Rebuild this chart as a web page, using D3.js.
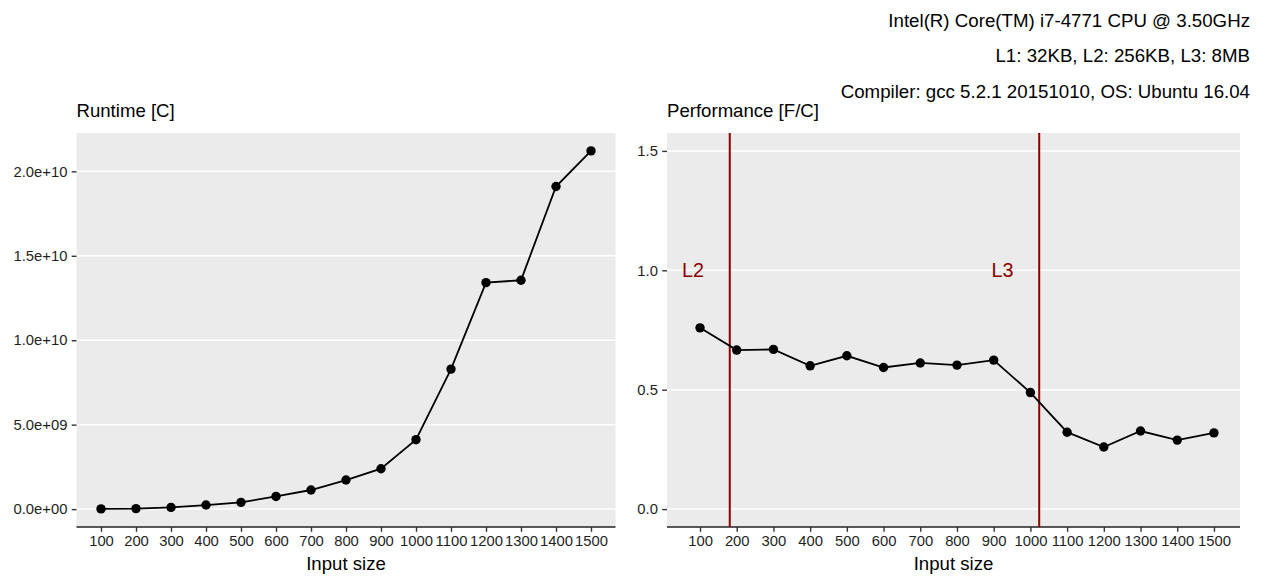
<!DOCTYPE html>
<html>
<head>
<meta charset="utf-8">
<script src="https://cdn.jsdelivr.net/npm/d3@7/dist/d3.min.js"></script>
<style>
  html, body { margin: 0; padding: 0; background: #fff; }
  svg { display: block; font-family: "Liberation Sans", Arial, Helvetica, sans-serif; }
</style>
</head>
<body>
<svg id="chart" width="1261" height="577"></svg>
<script>
// ---- data ----
const inputSizes = [100, 200, 300, 400, 500, 600, 700, 800, 900, 1000, 1100, 1200, 1300, 1400, 1500];
const runtimeCycles = [1.0e7, 3.0e7, 1.0e8, 2.4e8, 4.0e8, 7.5e8, 1.13e9, 1.72e9, 2.39e9, 4.11e9, 8.29e9, 1.341e10, 1.355e10, 1.910e10, 2.121e10];
const performance = [0.759, 0.666, 0.669, 0.600, 0.642, 0.593, 0.612, 0.603, 0.624, 0.488, 0.322, 0.260, 0.327, 0.289, 0.319];
const runtimeTicks = [0, 5e9, 1e10, 1.5e10, 2e10];
const runtimeTickLabels = ["0.0e+00", "5.0e+09", "1.0e+10", "1.5e+10", "2.0e+10"];
const perfTicks = [0, 0.5, 1.0, 1.5];
const perfTickLabels = ["0.0", "0.5", "1.0", "1.5"];
const cacheLines = [
  { name: "L2", x: Math.sqrt(256 * 1024 / 8) },      // ~181
  { name: "L3", x: Math.sqrt(8 * 1024 * 1024 / 8) }  // 1024
];
const labelOffset = 100;
const labelY = 1.0;
const subtitleLines = [
  "Intel(R) Core(TM) i7-4771 CPU @ 3.50GHz",
  "L1: 32KB, L2: 256KB, L3: 8MB",
  "Compiler: gcc 5.2.1 20151010, OS: Ubuntu 16.04"
];
const panelTitles = ["Runtime [C]", "Performance [F/C]"];
const xTitle = "Input size";

// ---- layout ----
const svg = d3.select("#chart");
const panelTop = 133, panelBottom = 527;
const panels = [
  { left: 76.5, right: 615.5 },
  { left: 667, right: 1240 }
];
const bg = "#EBEBEB";
const tickLen = 4.8;
const tickFont = 14.8;
const titleFont = 18.6;
const darkred = "#8B0000";
const tickColor = "#1f1f1f";

function expand(lo, hi) {
  const d = hi - lo;
  return [lo - 0.05 * d, hi + 0.05 * d];
}

function drawPanel(p, xDomain, yDomain, yTicks, yTickLabels, values, title, extra) {
  const x = d3.scaleLinear().domain(xDomain).range([p.left, p.right]);
  const y = d3.scaleLinear().domain(yDomain).range([panelBottom, panelTop]);
  const g = svg.append("g");

  g.append("rect")
    .attr("x", p.left).attr("y", panelTop)
    .attr("width", p.right - p.left).attr("height", panelBottom - panelTop)
    .attr("fill", bg);

  // gridlines
  g.selectAll(".grid").data(yTicks).enter().append("line")
    .attr("x1", p.left).attr("x2", p.right)
    .attr("y1", d => y(d)).attr("y2", d => y(d))
    .attr("stroke", "#fff").attr("stroke-width", 1.5);

  // y axis (ticks + labels, no line)
  const yAxis = d3.axisLeft(y).tickValues(yTicks)
    .tickFormat((d, i) => yTickLabels[i])
    .tickSize(tickLen).tickPadding(4.3);
  const ya = g.append("g").attr("transform", `translate(${p.left},0)`).call(yAxis);
  ya.select(".domain").remove();
  ya.selectAll(".tick line").attr("stroke", "#333").attr("stroke-width", 1.4);
  ya.selectAll(".tick text").attr("fill", tickColor).style("font-size", tickFont + "px")
    .style("font-family", '"Liberation Sans", Arial, sans-serif');

  // x axis
  const xAxis = d3.axisBottom(x).tickValues(inputSizes)
    .tickFormat(d3.format("d")).tickSize(tickLen).tickPadding(3.5).tickSizeOuter(0);
  const xa = g.append("g").attr("transform", `translate(0,${panelBottom})`).call(xAxis);
  xa.select(".domain").attr("stroke", "#222").attr("stroke-width", 1.5)
    .attr("d", `M${p.left},0H${p.right}`);
  xa.selectAll(".tick line").attr("stroke", "#333").attr("stroke-width", 1.4);
  xa.selectAll(".tick text").attr("fill", tickColor).style("font-size", tickFont + "px")
    .style("font-family", '"Liberation Sans", Arial, sans-serif');

  if (extra) extra(g, x, y);

  // line + points
  const line = d3.line().x((d, i) => x(inputSizes[i])).y(d => y(d));
  g.append("path").datum(values)
    .attr("d", line).attr("fill", "none").attr("stroke", "#000").attr("stroke-width", 1.8);
  g.selectAll(".pt").data(values).enter().append("circle")
    .attr("cx", (d, i) => x(inputSizes[i])).attr("cy", d => y(d))
    .attr("r", 4.7).attr("fill", "#000");

  // titles
  g.append("text").attr("x", p.left).attr("y", 116.5)
    .style("font-size", titleFont + "px").attr("fill", "#000").text(title);
  g.append("text").attr("x", (p.left + p.right) / 2).attr("y", 570)
    .attr("text-anchor", "middle").style("font-size", titleFont + "px")
    .attr("fill", "#000").text(xTitle);
}

// Left panel: runtime
const rtMax = d3.max(runtimeCycles);
drawPanel(panels[0], expand(d3.min(inputSizes), d3.max(inputSizes)),
  expand(0, rtMax), runtimeTicks, runtimeTickLabels, runtimeCycles, panelTitles[0]);

// Right panel: performance with cache lines
const labelXs = cacheLines.map(c => c.x - labelOffset);
drawPanel(panels[1], expand(Math.min(d3.min(labelXs), d3.min(inputSizes)), d3.max(inputSizes)),
  expand(0, 1.5), perfTicks, perfTickLabels, performance, panelTitles[1],
  (g, x, y) => {
    g.selectAll(".vline").data(cacheLines).enter().append("line")
      .attr("x1", d => x(d.x)).attr("x2", d => x(d.x))
      .attr("y1", panelTop).attr("y2", panelBottom)
      .attr("stroke", darkred).attr("stroke-width", 2);
    g.selectAll(".vlab").data(cacheLines).enter().append("text")
      .attr("x", d => x(d.x - labelOffset)).attr("y", y(labelY))
      .attr("dy", "0.36em").attr("text-anchor", "middle")
      .style("font-size", "19.8px").attr("fill", darkred).text(d => d.name);
  });

// subtitle (top right)
svg.append("g").selectAll("text").data(subtitleLines).enter().append("text")
  .attr("x", 1250).attr("y", (d, i) => 27 + i * 35.3)
  .attr("text-anchor", "end").style("font-size", "18.7px")
  .attr("fill", "#000").text(d => d);
</script>
</body>
</html>
